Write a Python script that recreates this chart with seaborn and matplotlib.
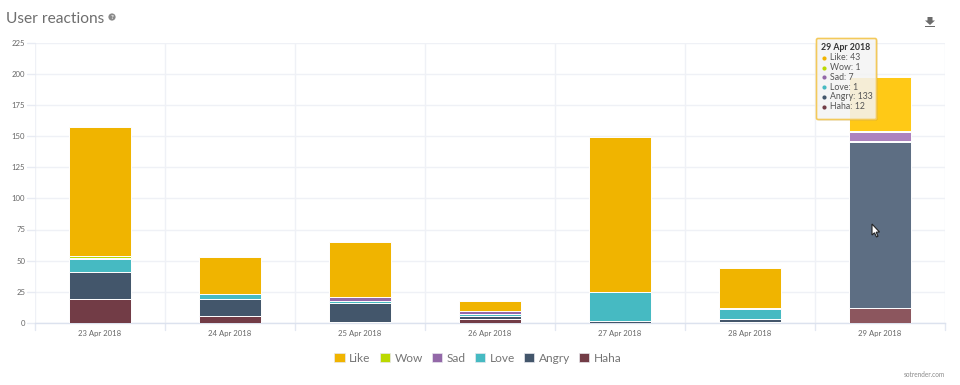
import matplotlib
matplotlib.use("Agg")
import matplotlib.pyplot as plt
import seaborn as sns
import numpy as np
import pandas as pd
from matplotlib.patches import FancyBboxPatch, Patch, Polygon, Circle, Rectangle
from matplotlib.lines import Line2D
from matplotlib.transforms import Affine2D

dates = ["23 Apr 2018", "24 Apr 2018", "25 Apr 2018", "26 Apr 2018", "27 Apr 2018", "28 Apr 2018", "29 Apr 2018"]
like = [103, 30, 44, 8, 124, 32, 43]
wow = [2, 0, 0, 0, 0, 0, 1]
sad = [1, 0, 3, 3, 0, 1, 7]
love = [10, 4, 2, 1, 23, 8, 1]
angry = [22, 13, 15, 3, 2, 2, 133]
haha = [19, 6, 1, 3, 0, 1, 12]
series_names = ["Like", "Wow", "Sad", "Love", "Angry", "Haha"]
series_values = [like, wow, sad, love, angry, haha]
colors = ["#F0B400", "#BBD900", "#9368A8", "#46BAC2", "#43566B", "#723C46"]
hover_colors = ["#FFC916", "#F2EE6E", "#AD82BE", "#A9E0E4", "#5D6E83", "#8C565E"]
y_ticks = [0, 25, 50, 75, 100, 125, 150, 175, 200, 225]

W, H = 960, 385
sns.set_style("white")
plt.rcParams["font.family"] = ["Lato", "DejaVu Sans"]
fig = plt.figure(figsize=(W / 100, H / 100), dpi=100, facecolor="white")
ax = fig.add_axes([35 / W, 1 - 323 / H, 910 / W, 280.5 / H])

# pixel coordinates from top-left of the figure
px = Affine2D().scale(1 / W, -1 / H).translate(0, 1) + fig.transFigure

stack_order = list(reversed(range(len(series_names))))
bottom = np.zeros(len(dates))
for i in stack_order:
    df = pd.DataFrame({"date": dates, "value": series_values[i]})
    sns.barplot(data=df, x="date", y="value", ax=ax, color=colors[i], width=0.48,
                bottom=bottom, saturation=1, edgecolor="#ffffff", linewidth=0.7,
                zorder=3, errorbar=None, order=dates)
    bar = ax.patches[-1]
    bar.set_facecolor(hover_colors[i])
    bottom = bottom + np.array(series_values[i])

ax.set_xlim(-0.5, 6.5)
ax.set_ylim(0, 225)
ax.set_xlabel("")
ax.set_ylabel("")
ax.set_yticks(y_ticks)
ax.set_yticklabels([str(v) for v in y_ticks], fontsize=5.6, color="#666666")
ax.set_xticks(range(len(dates)))
ax.set_xticklabels(dates, fontsize=5.6, color="#666666")
ax.tick_params(axis="x", length=0, pad=5)
ax.tick_params(axis="y", length=0, pad=7)
ax.yaxis.grid(True, color="#EFF1F6", linewidth=1, zorder=0)
ax.set_axisbelow(True)
for v in np.arange(-0.5, 7, 1):
    ax.axvline(v, color="#EFF1F6", linewidth=1, zorder=0)
    ax.plot([v, v], [0, -0.025], transform=ax.get_xaxis_transform(), color="#E3E8F2",
            linewidth=1, clip_on=False, zorder=1)
for v in y_ticks:
    ax.plot([-0.5, -0.56], [v, v], color="#E8EBF3", lw=1, clip_on=False)
for s in ["top", "left", "right"]:
    ax.spines[s].set_visible(False)
ax.spines["bottom"].set_color("#DCE2EE")
ax.spines["bottom"].set_linewidth(1)

# Title
fig.text(6 / W, 1 - 19 / H, "User reactions", fontsize=11.2, color="#6E6E6E", va="center", ha="left")
fig.add_artist(Circle((112, 17), 3.6, transform=px, facecolor="#8A8A8A", edgecolor="none"))
fig.text(112 / W, 1 - 17.2 / H, "?", fontsize=4.5, color="white", va="center", ha="center", fontweight="bold")

# Download icon
fig.add_artist(Polygon([(927.5, 17), (932.5, 17), (932.5, 20.5), (935, 20.5), (930, 25), (925, 20.5), (927.5, 20.5)],
                       closed=True, transform=px, facecolor="#6B6B6B", edgecolor="none"))
fig.add_artist(Rectangle((925, 26), 10, 1.3, transform=px, facecolor="#6B6B6B", edgecolor="none"))

# Legend
handles = [Patch(facecolor=c, edgecolor="#E8E8EE", linewidth=0.5) for c in colors]
fig.legend(handles, series_names, loc="center", bbox_to_anchor=(0.498, 1 - 358 / H), ncol=6, frameon=False,
           fontsize=8.6, labelcolor="#757575", handlelength=0.85, handleheight=0.85, handletextpad=0.4,
           columnspacing=0.75, borderpad=0)

# Tooltip
shadow = FancyBboxPatch((817.5, 39.5), 60, 81, boxstyle="round,pad=0,rounding_size=1.5", transform=px,
                        facecolor="#000000", alpha=0.12, edgecolor="none", zorder=8)
fig.add_artist(shadow)
box = FancyBboxPatch((816.5, 38.5), 60, 81, boxstyle="round,pad=0,rounding_size=1.5", transform=px,
                     facecolor="#F9F9F9", alpha=0.85, edgecolor="none", zorder=9)
fig.add_artist(box)
fig.add_artist(FancyBboxPatch((816.5, 38.5), 60, 81, boxstyle="round,pad=0,rounding_size=1.5", transform=px,
                              facecolor="none", edgecolor="#F3C95A", linewidth=1.2, zorder=10))
fig.text(821 / W, 1 - 48 / H, dates[-1], fontsize=6.3, fontweight="bold", color="#333333",
         va="center", ha="left", zorder=11)
for k, (name, vals, c) in enumerate(zip(series_names, series_values, colors)):
    y = 58 + k * 9.7
    fig.add_artist(Line2D([824], [y], transform=px, marker="o", markersize=3, color=c, markeredgewidth=0, zorder=11))
    fig.text(830 / W, 1 - y / H, f"{name}: {vals[-1]}", fontsize=6.3, color="#555555", va="center", ha="left", zorder=11)

# Mouse cursor
fig.add_artist(Polygon([(872, 224), (872, 235), (874.5, 232.8), (876.5, 237), (878, 236.2), (876.2, 232.2), (879.5, 232)],
                       closed=True, transform=px, facecolor="white", edgecolor="#222222", linewidth=0.8, zorder=12))

# Footer
fig.text(945 / W, 1 - 374.5 / H, "sotrender.com", fontsize=4.7, color="#8A8A8A", va="center", ha="right")

fig.savefig("out.png", dpi=100, facecolor="white")
